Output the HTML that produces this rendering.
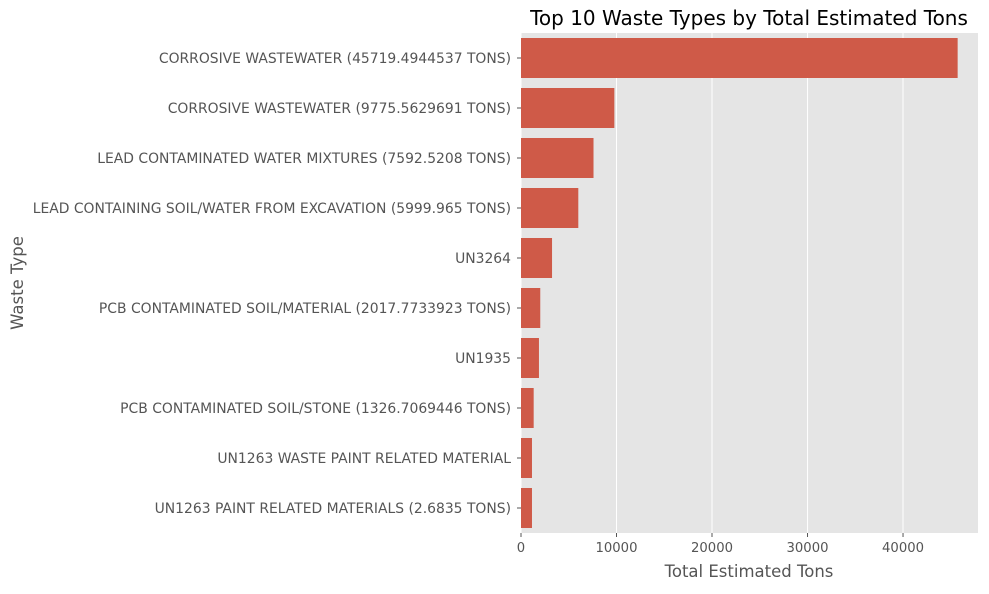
<!DOCTYPE html>
<html><head><meta charset="utf-8"><style>
body{margin:0;background:#fff;font-family:"DejaVu Sans","Liberation Sans",sans-serif;}
</style></head><body>
<svg id="chart" width="989" height="590" xmlns="http://www.w3.org/2000/svg" font-family="DejaVu Sans, Liberation Sans, sans-serif"></svg>
<script>
const categories=["CORROSIVE WASTEWATER (45719.4944537 TONS)","CORROSIVE WASTEWATER (9775.5629691 TONS)","LEAD CONTAMINATED WATER MIXTURES (7592.5208 TONS)","LEAD CONTAINING SOIL/WATER FROM EXCAVATION (5999.965 TONS)","UN3264","PCB CONTAMINATED SOIL/MATERIAL (2017.7733923 TONS)","UN1935","PCB CONTAMINATED SOIL/STONE (1326.7069446 TONS)","UN1263 WASTE PAINT RELATED MATERIAL","UN1263 PAINT RELATED MATERIALS (2.6835 TONS)"];
const values=[45719,9775,7592,6000,3250,2017,1880,1327,1150,1150];
const xTicks=[0,10000,20000,30000,40000];
const svg=document.getElementById('chart');
const NS='http://www.w3.org/2000/svg';
const L=521,R=978,T=33,B=533,XMAX=47850;
const xs=v=>L+v/XMAX*(R-L);
const band=(B-T)/categories.length;
const yc=i=>T+band*(i+0.5);
function mk(tag,attrs,txt){const e=document.createElementNS(NS,tag);for(const k in attrs)e.setAttribute(k,attrs[k]);if(txt!=null)e.textContent=txt;svg.appendChild(e);return e;}
let e=mk('rect',{x:L,y:T,width:R-L,height:B-T,fill:'#e5e5e5'});


xTicks.forEach(t=>{
 let g=mk('line',{x1:xs(t),x2:xs(t),y1:T,y2:B,stroke:'#fff','stroke-width':1});
 
 
 let tk=mk('line',{x1:xs(t),x2:xs(t),y1:B,y2:B+4,stroke:'#555'});
 
 
 let lb=mk('text',{x:xs(t),y:B+19,'text-anchor':'middle','font-size':13.2,fill:'#555'},String(t));
 
 
});
categories.forEach((c,i)=>{
 let b=mk('rect',{x:L,y:yc(i)-band*0.4,width:xs(values[i])-L,height:band*0.8,fill:'#cf5a48'});
 
 
 let tk=mk('line',{x1:L-4,x2:L,y1:yc(i),y2:yc(i),stroke:'#555'});
 
 
 let lb=mk('text',{x:L-10,y:yc(i)+5,'text-anchor':'end','font-size':13.9,fill:'#555'},c);
 
 
});
let t=mk('text',{x:749,y:25,'text-anchor':'middle','font-size':20,fill:'#000'},'Top 10 Waste Types by Total Estimated Tons');


let xl=mk('text',{x:749,y:577,'text-anchor':'middle','font-size':16.5,fill:'#555'},'Total Estimated Tons');


let yl=mk('text',{x:23,y:283,'text-anchor':'middle','font-size':16.5,fill:'#555',transform:'rotate(-90 23 283)'},'Waste Type');


</script>
</body></html>
